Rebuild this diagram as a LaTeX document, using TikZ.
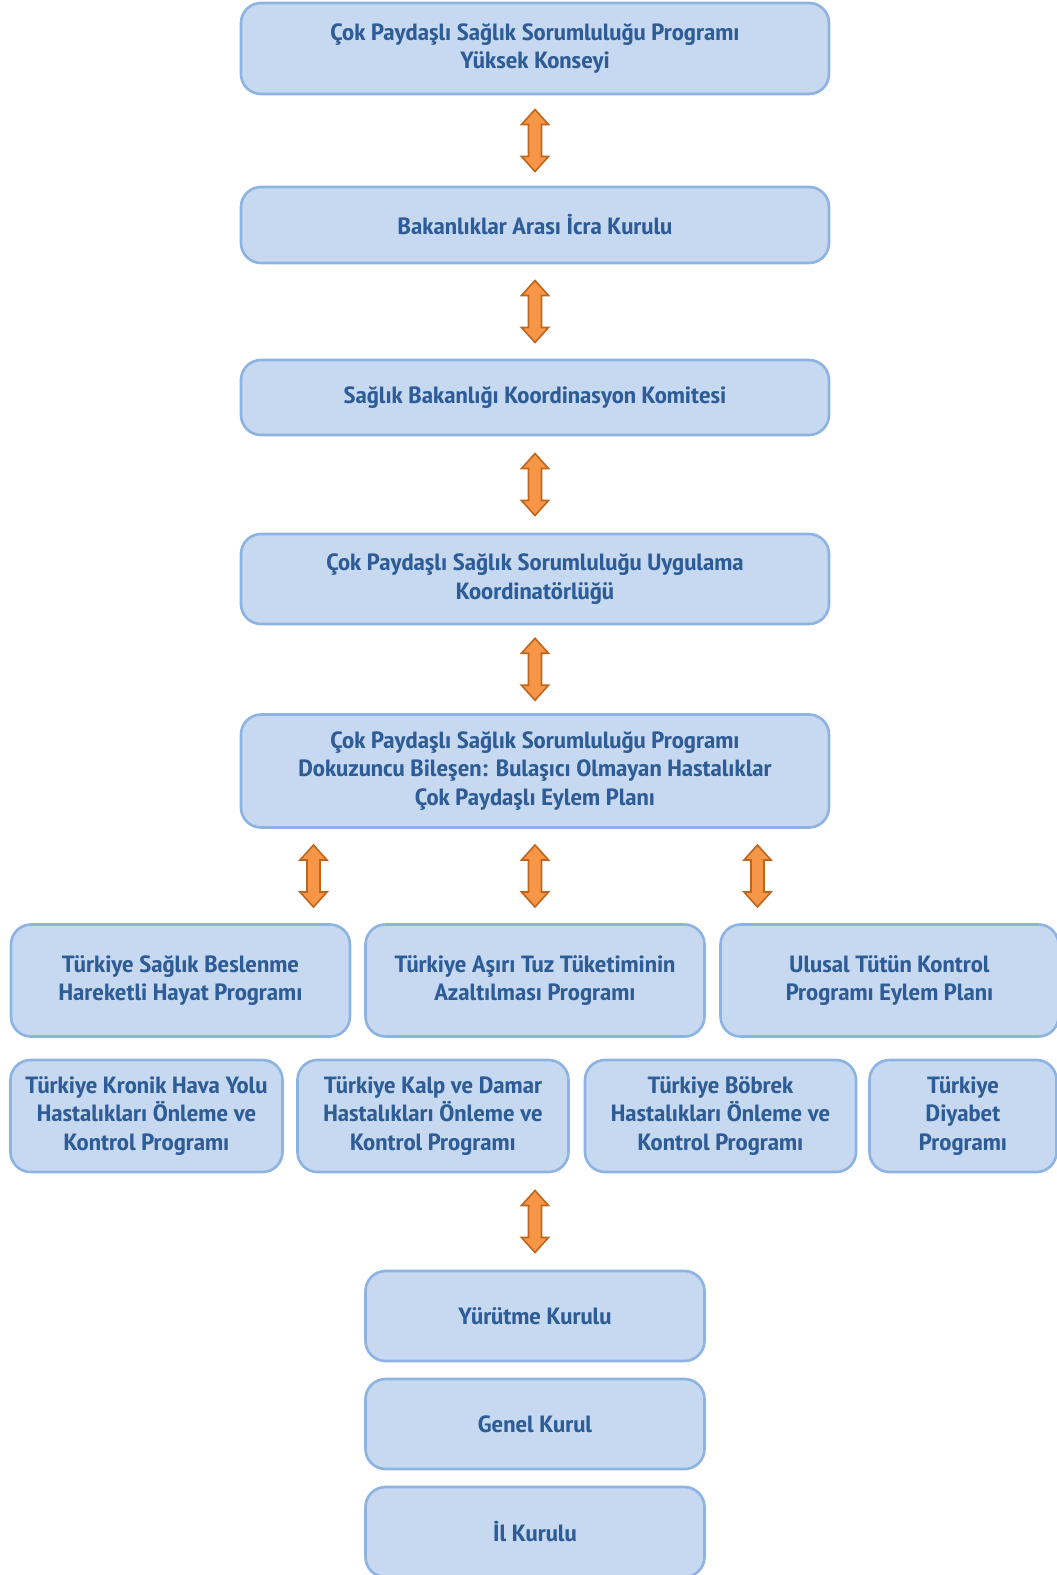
\documentclass[tikz,border=0pt]{standalone}
\usepackage{fontspec}
\setmainfont{PT Sans Narrow}[BoldFont={* Bold}, FakeStretch=1.16]
\usetikzlibrary{calc}
\definecolor{boxfill}{HTML}{C6D9F1}
\definecolor{boxline}{HTML}{8DB3E2}
\definecolor{boxtext}{HTML}{2E5C96}
\definecolor{arrfill}{HTML}{F79646}
\definecolor{arrline}{HTML}{C0651E}
\tikzset{
  box/.style={draw=boxline, fill=boxfill, line width=2.6pt, rounded corners=20pt,
    align=center, text=boxtext, font=\fontsize{23.5}{28.5}\selectfont\bfseries,
    inner sep=0pt, anchor=center},
  dbl/.style={draw=arrline, fill=arrfill, line width=1.6pt, line join=miter}
}
\newcommand\dblarrow[1]{%
  \draw[dbl] ($(#1)+(0,-31)$) -- ++(13.5,15) -- ++(-7,0) -- ++(0,32) -- ++(7,0)
    -- ++(-13.5,15) -- ++(-13.5,-15) -- ++(7,0) -- ++(0,-32) -- ++(-7,0) -- cycle;}
\begin{document}
\begin{tikzpicture}[x=1pt,y=-1pt]
\clip (0,0) rectangle (1057,1575);
\fill[white] (0,0) rectangle (1057,1575);
% main column
\node[box, minimum width=588pt, minimum height=91pt] (b1) at (535,48.5)
  {Çok Paydaşlı Sağlık Sorumluluğu Programı\\Yüksek Konseyi};
\node[box, minimum width=588pt, minimum height=76pt] (b2) at (535,225)
  {Bakanlıklar Arası İcra Kurulu};
\node[box, minimum width=588pt, minimum height=75pt] (b3) at (535,397.5)
  {Sağlık Bakanlığı Koordinasyon Komitesi};
\node[box, minimum width=588pt, minimum height=90pt] (b4) at (535,579)
  {Çok Paydaşlı Sağlık Sorumluluğu Uygulama\\Koordinatörlüğü};
\node[box, minimum width=588pt, minimum height=113pt] (b5) at (535,771)
  {Çok Paydaşlı Sağlık Sorumluluğu Programı\\Dokuzuncu Bileşen: Bulaşıcı Olmayan Hastalıklar\\Çok Paydaşlı Eylem Planı};
% row 1
\node[box, minimum width=339pt, minimum height=112pt] (r1a) at (180.5,980.5)
  {Türkiye Sağlık Beslenme\\Hareketli Hayat Programı};
\node[box, minimum width=339pt, minimum height=112pt] (r1b) at (535,980.5)
  {Türkiye Aşırı Tuz Tüketiminin\\Azaltılması Programı};
\node[box, minimum width=338pt, minimum height=112pt] (r1c) at (889.5,980.5)
  {Ulusal Tütün Kontrol\\Programı Eylem Planı};
% row 2
\node[box, minimum width=272pt, minimum height=112pt] (r2a) at (146.5,1116)
  {Türkiye Kronik Hava Yolu\\Hastalıkları Önleme ve\\Kontrol Programı};
\node[box, minimum width=271pt, minimum height=112pt] (r2b) at (433,1116)
  {Türkiye Kalp ve Damar\\Hastalıkları Önleme ve\\Kontrol Programı};
\node[box, minimum width=271pt, minimum height=112pt] (r2c) at (720.5,1116)
  {Türkiye Böbrek\\Hastalıkları Önleme ve\\Kontrol Programı};
\node[box, minimum width=187pt, minimum height=112pt] (r2d) at (963,1116)
  {Türkiye\\Diyabet\\Programı};
% bottom column
\node[box, minimum width=339pt, minimum height=90pt] (y1) at (535,1316)
  {Yürütme Kurulu};
\node[box, minimum width=339pt, minimum height=90pt] (y2) at (535,1424)
  {Genel Kurul};
\node[box, minimum width=339pt, minimum height=90pt] (y3) at (535,1532)
  {İl Kurulu};
% arrows
\coordinate (a1) at ($(b1.south)!0.5!(b2.north)$);
\coordinate (a2) at ($(b2.south)!0.5!(b3.north)$);
\coordinate (a3) at ($(b3.south)!0.5!(b4.north)$);
\coordinate (a4) at ($(b4.south)!0.5!(b5.north)$);
\coordinate (a5) at (313.5,876);
\coordinate (a6) at ($(b5.south)!0.5!(r1b.north)$);
\coordinate (a7) at (757.5,876);
\coordinate (a8) at ($(r2b.south -| y1.north)!0.5!(y1.north)$);
\dblarrow{a1}\dblarrow{a2}\dblarrow{a3}\dblarrow{a4}
\dblarrow{a5}\dblarrow{a6}\dblarrow{a7}\dblarrow{a8}
\end{tikzpicture}
\end{document}
